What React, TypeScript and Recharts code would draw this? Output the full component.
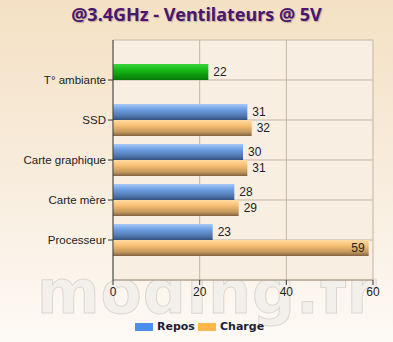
import React from "react";
import {
  BarChart,
  Bar,
  XAxis,
  YAxis,
  CartesianGrid,
  Cell,
  LabelList,
} from "recharts";

const categories = ["T° ambiante", "SSD", "Carte graphique", "Carte mère", "Processeur"];
const repos = [22, 31, 30, 28, 23];
const charge: (number | null)[] = [null, 32, 31, 29, 59];
const xTicks = [0, 20, 40, 60];

const data = categories.map((name, i) => ({
  name,
  repos: repos[i],
  charge: charge[i],
}));

const FONT = "'Liberation Sans', Arial, sans-serif";

// value labels: right of the bar, or inside the end when the bar is long
const renderLabel = (props: any) => {
  const { x, y, width, height, value } = props;
  if (value == null) return null;
  const inside = value > 50;
  return (
    <text
      x={inside ? x + width - 4 : x + width + 5}
      y={y + height / 2}
      dy={4}
      textAnchor={inside ? "end" : "start"}
      fontSize={12}
      fontFamily={FONT}
      fill="#222"
    >
      {value}
    </text>
  );
};

export default function App() {
  return (
    <div
      style={{
        position: "absolute",
        left: 0,
        top: 0,
        width: 393,
        height: 342,
        overflow: "hidden",
        background: "linear-gradient(180deg, #f4e1c4 0%, #f8ecdc 50%, #fdfaf5 100%)",
      }}
    >
      {/* watermark */}
      <div
        style={{
          position: "absolute",
          left: 37,
          top: 262,
          fontFamily: "'DejaVu Sans', sans-serif",
          fontWeight: 700,
          fontSize: 60,
          color: "#f3f0ec",
          WebkitTextStroke: "1px #dcd7d1",
          letterSpacing: 1,
          lineHeight: 1,
        }}
      >
        moding.fr
      </div>

      <div
        style={{
          position: "absolute",
          top: 2,
          left: 0,
          width: 393,
          textAlign: "center",
          fontFamily: "'Noto Sans', sans-serif",
          fontWeight: 700,
          fontSize: 18,
          color: "#4a1670",
          textShadow: "1px 1px 1px #b9a994",
        }}
      >
        @3.4GHz - Ventilateurs @ 5V
      </div>

      <BarChart
        width={393}
        height={342}
        data={data}
        layout="vertical"
        margin={{ top: 40, right: 20, left: 0, bottom: 32 }}
        barSize={16}
        barGap={0}
        style={{ position: "absolute", left: 0, top: 0 }}
      >
        <defs>
          <linearGradient id="gBlue" x1="0" y1="0" x2="0" y2="1">
            <stop offset="0%" stopColor="#a6c8f6" />
            <stop offset="35%" stopColor="#6e9ee2" />
            <stop offset="75%" stopColor="#4f76ae" />
            <stop offset="100%" stopColor="#34507a" />
          </linearGradient>
          <linearGradient id="gOrange" x1="0" y1="0" x2="0" y2="1">
            <stop offset="0%" stopColor="#ffdca6" />
            <stop offset="35%" stopColor="#f7bf72" />
            <stop offset="75%" stopColor="#c4985c" />
            <stop offset="100%" stopColor="#806341" />
          </linearGradient>
          <linearGradient id="gGreen" x1="0" y1="0" x2="0" y2="1">
            <stop offset="0%" stopColor="#3cd43c" />
            <stop offset="40%" stopColor="#14b814" />
            <stop offset="100%" stopColor="#08780a" />
          </linearGradient>
        </defs>
        <CartesianGrid stroke="#c4b5a3" fill="#f8eee2" />
        <XAxis
          type="number"
          domain={[0, 60]}
          ticks={xTicks}
          interval={0}
          height={30}
          axisLine={{ stroke: "#a89886" }}
          tickLine={{ stroke: "#333" }}
          tickSize={5}
          tick={{ fontSize: 12, fontFamily: FONT, fill: "#222" }}
        />
        <XAxis
          xAxisId="top"
          orientation="top"
          type="number"
          domain={[0, 60]}
          height={0}
          tick={false}
          tickLine={false}
          axisLine={{ stroke: "#c4b5a3" }}
        />
        <YAxis
          type="category"
          dataKey="name"
          width={113}
          padding={{ top: 20, bottom: 20 }}
          axisLine={{ stroke: "#444" }}
          tickLine={{ stroke: "#333" }}
          tickSize={5}
          tick={{ fontSize: 11.5, fontFamily: FONT, fill: "#222" }}
        />
        <Bar dataKey="repos" fill="url(#gBlue)" isAnimationActive={false}>
          {data.map((d, i) => (
            <Cell key={d.name} fill={i === 0 ? "url(#gGreen)" : "url(#gBlue)"} />
          ))}
          <LabelList dataKey="repos" content={renderLabel} />
        </Bar>
        <Bar dataKey="charge" fill="url(#gOrange)" isAnimationActive={false}>
          <LabelList dataKey="charge" content={renderLabel} />
        </Bar>
      </BarChart>

      {/* legend */}
      <div
        style={{
          position: "absolute",
          top: 320,
          left: 135,
          display: "flex",
          alignItems: "center",
          fontFamily: "'DejaVu Sans', sans-serif",
          fontSize: 11,
          fontWeight: 700,
          color: "#1e1e3a",
        }}
      >
        <span style={{ width: 18, height: 8, background: "#4a8ef0", display: "inline-block" }} />
        <span style={{ marginLeft: 4, width: 41 }}>Repos</span>
        <span style={{ width: 18, height: 8, background: "#ffb64a", display: "inline-block" }} />
        <span style={{ marginLeft: 4 }}>Charge</span>
      </div>
    </div>
  );
}
